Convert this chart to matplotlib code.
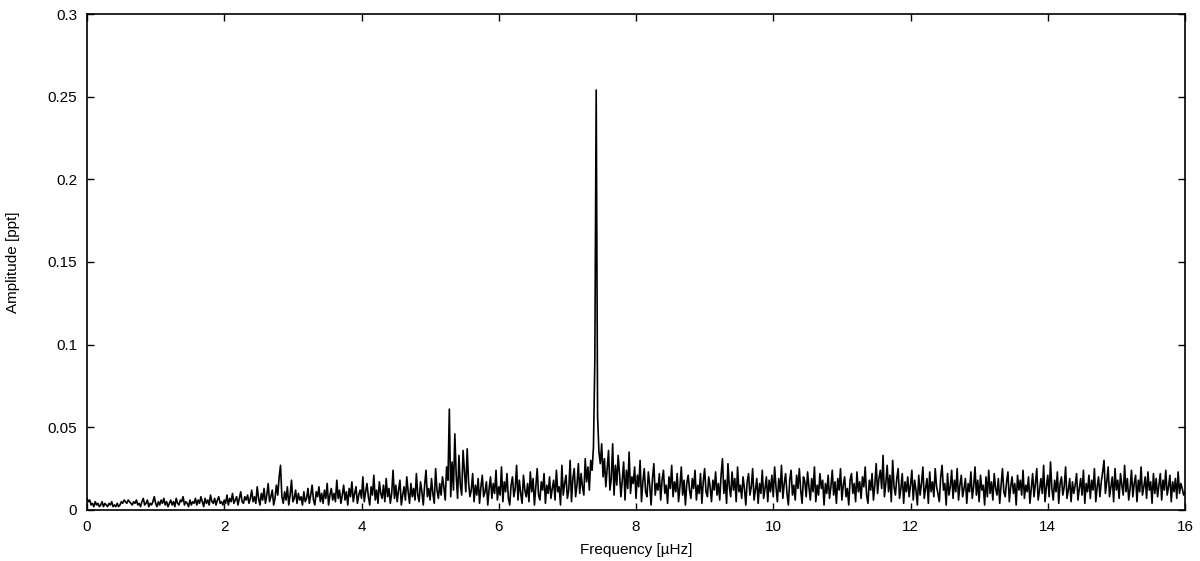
import numpy as np
import matplotlib.pyplot as plt

plt.rcParams['font.family'] = ['Liberation Sans', 'DejaVu Sans']

# amplitude in units of 1e-3 ppt, sampled every 0.02 uHz from 0 to 16 uHz
amp_milli = [
    7, 5, 6, 3, 4, 2, 5, 3, 4, 2, 3, 5, 2, 4, 3, 2, 4, 3, 5, 2,
    3, 2, 4, 2, 3, 5, 4, 6, 5, 4, 6, 5, 4, 3, 5, 4, 6, 3, 4, 2,
    5, 7, 3, 4, 6, 2, 4, 3, 5, 8, 4, 2, 5, 3, 6, 4, 7, 3, 5, 2,
    4, 6, 3, 5, 2, 7, 4, 3, 6, 5, 8, 3, 5, 4, 2, 6, 3, 5, 4, 7,
    3, 6, 4, 8, 5, 2, 7, 4, 6, 3, 9, 5, 4, 7, 3, 6, 8, 4, 5, 3,
    6, 4, 9, 3, 7, 5, 10, 4, 6, 8, 3, 7, 11, 5, 4, 8, 6, 9, 4, 7,
    12, 5, 8, 4, 14, 7, 3, 10, 6, 13, 4, 9, 16, 5, 8, 12, 3, 7, 15, 9,
    20, 27, 8, 4, 11, 6, 14, 3, 9, 18, 5, 7, 12, 4, 10, 6, 8, 3, 11, 5,
    7, 13, 4, 9, 15, 6, 3, 11, 8, 14, 5, 10, 4, 12, 7, 16, 3, 9, 13, 6,
    10, 5, 18, 7, 12, 4, 9, 15, 6, 11, 3, 13, 8, 17, 5, 10, 14, 4, 9, 12,
    7, 20, 5, 11, 16, 8, 3, 14, 9, 21, 6, 12, 4, 17, 10, 7, 15, 5, 19, 8,
    13, 4, 10, 24, 7, 15, 5, 12, 18, 3, 9, 14, 6, 20, 11, 4, 16, 8, 13, 6,
    22, 9, 5, 17, 11, 3, 15, 24, 8, 13, 6, 19, 10, 4, 25, 12, 7, 16, 9, 20,
    14, 6, 26, 18, 61, 8, 29, 12, 46, 21, 7, 33, 15, 9, 36, 23, 11, 37, 17, 8,
    12, 22, 5, 15, 9, 19, 4, 14, 21, 8, 11, 17, 3, 13, 20, 7, 16, 10, 24, 6,
    14, 9, 26, 5, 17, 11, 22, 7, 3, 15, 20, 8, 13, 27, 6, 18, 10, 4, 21, 12,
    8, 16, 5, 23, 11, 19, 3, 14, 25, 9, 6, 17, 12, 22, 4, 15, 10, 20, 7, 13,
    18, 6, 24, 11, 14, 3, 27, 9, 16, 21, 7, 12, 30, 5, 19, 25, 8, 15, 28, 10,
    22, 14, 9, 31, 17, 26, 12, 30, 24, 38, 90, 254, 57, 35, 28, 40, 20, 31, 14, 25,
    36, 12, 19, 40, 9, 27, 15, 33, 22, 8, 18, 29, 6, 24, 13, 35, 10, 20, 16, 26,
    7, 21, 14, 30, 5, 17, 25, 11, 8, 23, 15, 3, 19, 28, 9, 16, 12, 22, 6, 18,
    24, 10, 15, 4, 20, 13, 27, 8, 17, 11, 22, 5, 14, 26, 9, 18, 3, 16, 21, 12,
    7, 19, 13, 24, 6, 15, 10, 22, 4, 17, 25, 11, 8, 20, 14, 5, 18, 12, 23, 9,
    16, 6, 21, 31, 10, 18, 4, 28, 14, 8, 23, 12, 19, 5, 26, 11, 15, 7, 20, 13,
    3, 17, 22, 9, 14, 25, 6, 12, 19, 4, 16, 10, 24, 7, 13, 20, 5, 18, 11, 21,
    8, 26, 14, 5, 19, 11, 27, 7, 16, 22, 10, 3, 18, 24, 9, 15, 6, 21, 13, 25,
    12, 4, 20, 17, 8, 23, 14, 6, 19, 11, 26, 5, 15, 9, 22, 13, 18, 3, 16, 10,
    21, 7, 14, 24, 9, 17, 4, 19, 12, 25, 6, 15, 20, 8, 13, 3, 18, 22, 10, 16,
    5, 23, 11, 17, 7, 20, 14, 26, 9, 4, 18, 12, 22, 6, 15, 28, 10, 19, 24, 13,
    33, 8, 16, 27, 11, 21, 5, 30, 14, 9, 19, 25, 7, 13, 22, 4, 17, 11, 20, 8,
    15, 24, 6, 18, 12, 3, 21, 9, 16, 26, 7, 13, 19, 4, 23, 11, 17, 8, 25, 14,
    10, 5, 20, 27, 12, 16, 3, 22, 9, 14, 24, 7, 18, 11, 25, 6, 15, 21, 8, 13,
    19, 4, 16, 11, 23, 7, 14, 26, 9, 18, 5, 21, 12, 15, 3, 20, 8, 24, 10, 17,
    6, 22, 13, 9, 19, 4, 15, 25, 11, 8, 17, 23, 5, 14, 20, 10, 16, 3, 21, 12,
    18, 9, 24, 7, 15, 11, 20, 4, 13, 22, 8, 16, 25, 6, 12, 19, 10, 27, 5, 14,
    21, 8, 29, 13, 6, 18, 11, 23, 4, 16, 20, 9, 14, 26, 7, 12, 19, 5, 17, 10,
    15, 22, 6, 13, 19, 9, 24, 4, 16, 11, 21, 7, 18, 12, 25, 5, 14, 20, 8, 17,
    23, 30, 10, 17, 26, 8, 14, 20, 5, 25, 12, 18, 7, 22, 15, 9, 27, 11, 19, 6,
    13, 24, 8, 16, 21, 5, 18, 11, 26, 9, 14, 20, 7, 23, 12, 17, 4, 22, 10, 19,
    8, 15, 22, 6, 18, 12, 24, 9, 14, 21, 5, 17, 11, 19, 7, 23, 10, 16, 13, 9,
    11,
]
freq_step = 0.02

x_ticks = [0, 2, 4, 6, 8, 10, 12, 14, 16]
y_ticks = [0, 0.05, 0.1, 0.15, 0.2, 0.25, 0.3]
y_tick_labels = ['0', '0.05', '0.1', '0.15', '0.2', '0.25', '0.3']

amp = np.array(amp_milli) / 1000.0
freq = np.arange(len(amp)) * freq_step

fig = plt.figure(figsize=(12, 5.61), dpi=100)
ax = fig.add_axes([0.0725, 0.091, 0.915, 0.884])
ax.plot(freq, amp, color='black', linewidth=1.2)

ax.set_xlim(0, 16)
ax.set_ylim(0, 0.3)
ax.set_xticks(x_ticks)
ax.set_xticklabels([str(t) for t in x_ticks])
ax.set_yticks(y_ticks)
ax.set_yticklabels(y_tick_labels)
ax.tick_params(direction='in', top=True, right=True, length=5, width=1,
               labelsize=11, pad=7)
for s in ax.spines.values():
    s.set_linewidth(1.2)

ax.set_xlabel('Frequency [\u00b5Hz]', fontsize=11)
ax.set_ylabel('Amplitude [ppt]', fontsize=11)
ax.xaxis.set_label_coords(0.5, -0.066)
ax.yaxis.set_label_coords(-0.061, 0.5)

fig.savefig('out.png', dpi=100)
